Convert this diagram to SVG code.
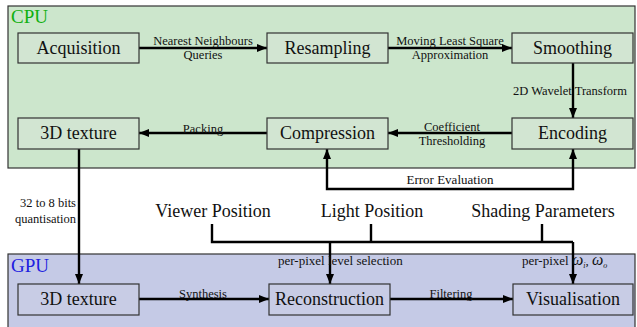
<svg xmlns="http://www.w3.org/2000/svg" width="637" height="327" viewBox="0 0 637 327" font-family="Liberation Serif, DejaVu Serif, serif">
<defs>
<marker id="ah" markerWidth="10" markerHeight="8" refX="10" refY="4" orient="auto" markerUnits="userSpaceOnUse">
<path d="M0,0 L10,4 L0,8 Z" fill="#000"/>
</marker>
</defs>
<style>
text{font-family:'Liberation Serif','DejaVu Serif',serif;fill:#111}
.box{stroke:#333;stroke-width:1.2}
.cpu .box{fill:#d2e5d2}
.gpu .box{fill:#c8cce5}
.lbl{font-size:18px;text-anchor:middle}
.el{font-size:12.5px;text-anchor:middle}
.in{font-size:18px;text-anchor:middle}
.c{stroke:#000;stroke-width:2.4;fill:none}
.a{marker-end:url(#ah)}
</style>
<rect x="8" y="6" width="627" height="162" fill="#cce6cc" stroke="#333" stroke-width="1.2"/>
<rect x="8" y="254" width="627" height="75" fill="#c5cae6" stroke="#333" stroke-width="1.2"/>
<text x="11" y="23" style="font-size:19px;fill:#10b010">CPU</text>
<text x="11" y="272" style="font-size:19px;fill:#2020e0">GPU</text>

<g id="connectors">
<line class="c a" x1="139" y1="48" x2="267" y2="48"/>
<line class="c a" x1="388" y1="48" x2="512" y2="48"/>
<line class="c a" x1="573" y1="63" x2="573" y2="118"/>
<line class="c a" x1="512" y1="133" x2="388" y2="133"/>
<line class="c a" x1="267" y1="133" x2="139" y2="133"/>
<path class="c a" d="M450,189 H327 V149"/>
<path class="c a" d="M450,189 H573 V149"/>
<path class="c a" d="M79,149 V284"/>
<path class="c" d="M212,224 V242 H573"/>
<line class="c" x1="371" y1="224" x2="371" y2="242"/>
<line class="c" x1="542" y1="224" x2="542" y2="242"/>
<line class="c a" x1="330" y1="242" x2="330" y2="284"/>
<line class="c a" x1="573" y1="242" x2="573" y2="284"/>
<line class="c a" x1="139" y1="299" x2="269" y2="299"/>
<line class="c a" x1="390" y1="299" x2="513" y2="299"/>
<text class="el" x="203" y="45">Nearest Neighbours</text>
<text class="el" x="203" y="59">Queries</text>
<text class="el" x="450" y="45">Moving Least Square</text>
<text class="el" x="450" y="59">Approximation</text>
<text class="el" x="570" y="95">2D Wavelet Transform</text>
<text class="el" x="452" y="131">Coefficient</text>
<text class="el" x="452" y="145">Thresholding</text>
<text class="el" x="203" y="133">Packing</text>
<text class="el" x="450" y="184" style="font-size:13px">Error Evaluation</text>
<text class="el" x="76" y="207" style="text-anchor:end">32 to 8 bits</text>
<text class="el" x="76" y="223" style="text-anchor:end">quantisation</text>
<text class="el" x="278" y="265" style="text-anchor:start;font-size:13px">per-pixel level selection</text>
<text class="el" x="522" y="265" style="text-anchor:start;font-size:13px">per-pixel <tspan font-style="italic" font-size="16">ω</tspan><tspan font-size="8" dy="3" font-style="italic">i</tspan><tspan dy="-3">, </tspan><tspan font-style="italic" font-size="16">ω</tspan><tspan font-size="8" dy="3" font-style="italic">o</tspan></text>
<text class="el" x="203" y="298">Synthesis</text>
<text class="el" x="451" y="298">Filtering</text>
</g>

<g class="cpu">
<g id="acquisition"><rect class="box" x="18" y="33" width="121" height="30"/><text class="lbl" x="78.5" y="54">Acquisition</text></g>
<g id="resampling"><rect class="box" x="267" y="33" width="121" height="30"/><text class="lbl" x="327.5" y="54">Resampling</text></g>
<g id="smoothing"><rect class="box" x="512" y="33" width="121" height="30"/><text class="lbl" x="572.5" y="54">Smoothing</text></g>
<g id="texture-cpu"><rect class="box" x="18" y="118" width="121" height="31"/><text class="lbl" x="78.5" y="139">3D texture</text></g>
<g id="compression"><rect class="box" x="267" y="118" width="121" height="31"/><text class="lbl" x="327.5" y="139">Compression</text></g>
<g id="encoding"><rect class="box" x="512" y="118" width="121" height="31"/><text class="lbl" x="572.5" y="139">Encoding</text></g>
</g>

<g id="viewer-position"><text class="in" x="213" y="217">Viewer Position</text></g>
<g id="light-position"><text class="in" x="372" y="217">Light Position</text></g>
<g id="shading-parameters"><text class="in" x="543" y="217">Shading Parameters</text></g>

<g class="gpu">
<g id="texture-gpu"><rect class="box" x="18" y="284" width="121" height="31"/><text class="lbl" x="78.5" y="305">3D texture</text></g>
<g id="reconstruction"><rect class="box" x="269" y="284" width="121" height="31"/><text class="lbl" x="329.5" y="305">Reconstruction</text></g>
<g id="visualisation"><rect class="box" x="513" y="284" width="120" height="31"/><text class="lbl" x="573" y="305">Visualisation</text></g>
</g>
</svg>
